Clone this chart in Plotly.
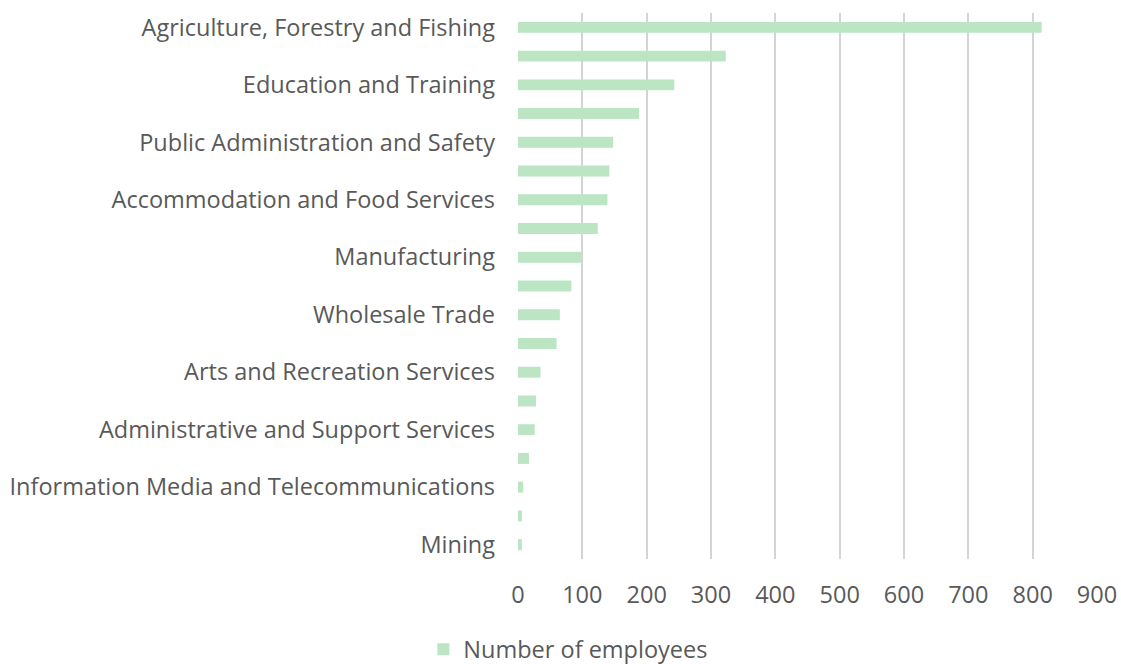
import plotly.graph_objects as go

# Employment by industry division, largest first
industries = [
    "Agriculture, Forestry and Fishing",
    "Health Care and Social Assistance",
    "Education and Training",
    "Retail Trade",
    "Public Administration and Safety",
    "Construction",
    "Accommodation and Food Services",
    "Other Services",
    "Manufacturing",
    "Transport, Postal and Warehousing",
    "Wholesale Trade",
    "Professional, Scientific and Technical Services",
    "Arts and Recreation Services",
    "Rental, Hiring and Real Estate Services",
    "Administrative and Support Services",
    "Financial and Insurance Services",
    "Information Media and Telecommunications",
    "Electricity, Gas, Water and Waste Services",
    "Mining",
]
employees = [814, 323, 243, 188, 148, 142, 139, 124, 99, 83,
             65, 60, 35, 28, 26, 17, 8, 6, 6]

# Only every second category gets a label on the axis
shown_labels = industries[::2]

x_ticks = [0, 100, 200, 300, 400, 500, 600, 700, 800, 900]

bar_colour = "#bbe5c3"
text_colour = "#595959"
font_family = "'Open Sans', sans-serif"
font_size = 23.5

fig = go.Figure(
    go.Bar(
        x=employees,
        y=industries,
        orientation="h",
        name="Number of employees",
        marker=dict(color=bar_colour, line=dict(width=0)),
        width=0.38,
    )
)

fig.update_layout(
    width=1121,
    height=664,
    margin=dict(l=518, r=24, t=13, b=105),
    plot_bgcolor="white",
    paper_bgcolor="white",
    font=dict(family=font_family, size=font_size, color=text_colour),
    showlegend=True,
    legend=dict(
        orientation="h",
        xref="container",
        yref="container",
        x=0.507,
        y=0.022,
        xanchor="center",
        yanchor="middle",
        itemwidth=30,
        font=dict(size=font_size, color=text_colour),
    ),
)

fig.update_xaxes(
    range=[0, 900],
    tickvals=x_ticks,
    ticktext=[str(v) for v in x_ticks],
    showgrid=True,
    gridcolor="#d4d4d4",
    gridwidth=2,
    zeroline=False,
    showline=False,
    ticks="",
    automargin=False,
    ticklabelstandoff=19,
    tickfont=dict(size=font_size, color=text_colour),
)

fig.update_yaxes(
    categoryorder="array",
    categoryarray=industries,
    autorange="reversed",
    tickmode="array",
    tickvals=shown_labels,
    ticktext=shown_labels,
    showgrid=False,
    zeroline=False,
    showline=False,
    ticks="",
    automargin=False,
    ticklabelstandoff=22,
    tickfont=dict(size=font_size, color=text_colour),
)

fig.write_html("out.html")
